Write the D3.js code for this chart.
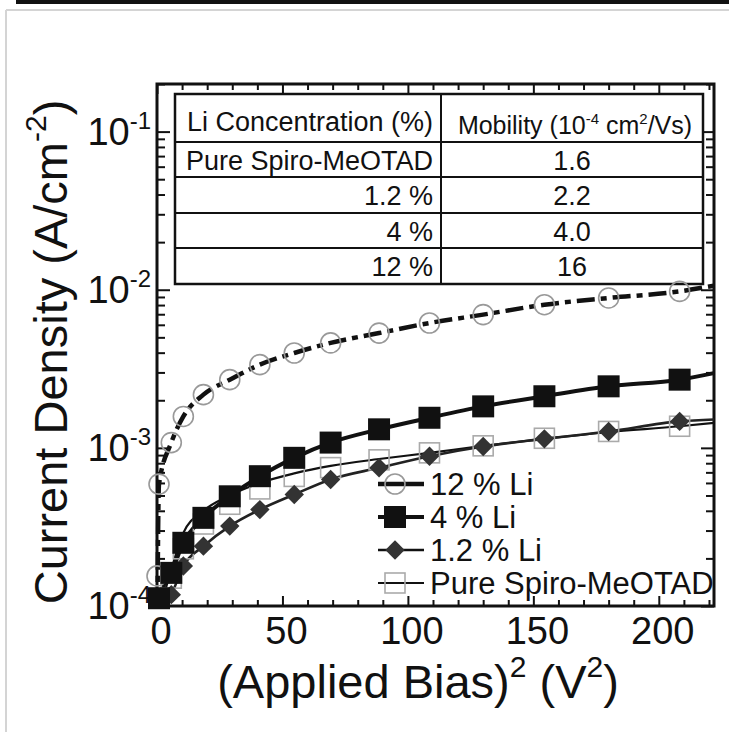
<!DOCTYPE html>
<html>
<head>
<meta charset="utf-8">
<script src="https://cdn.jsdelivr.net/npm/d3@7"></script>
<style>
  body { margin: 0; background: #fff; }
  svg text { font-family: "Liberation Sans", Arial, sans-serif; fill: #111; }
</style>
</head>
<body>
<div class="Graph"></div>
<script>
// squared bias (V^2) at which the markers sit
var biasSq = [0, 0.8, 5.7, 10.5, 18.5, 29, 41, 54.7, 69.2, 88.5, 108.6, 130, 154.4, 180, 208.3];

// measured current density (A/cm^2), null = not shown
var li12 = [1.55e-4, 5.9e-4, 1.08e-3, 1.58e-3, 2.17e-3, 2.7e-3, 3.36e-3, 3.98e-3, 4.61e-3, 5.32e-3, 6.16e-3, 6.96e-3, 8.04e-3, 8.87e-3, 9.76e-3];
var li4 = [null, 1.12e-4, 1.62e-4, 2.51e-4, 3.61e-4, 4.94e-4, 6.62e-4, 8.65e-4, 1.08e-3, 1.31e-3, 1.55e-3, 1.83e-3, 2.12e-3, 2.45e-3, 2.7e-3];
var li1_2 = [null, null, 1.18e-4, 1.79e-4, 2.39e-4, 3.2e-4, 4.07e-4, 5.07e-4, 6.31e-4, 7.48e-4, 8.86e-4, 1.02e-3, 1.14e-3, 1.27e-3, 1.47e-3];
var pure = [null, null, 1.5e-4, 2.3e-4, 3.3e-4, 4.4e-4, 5.5e-4, 6.6e-4, 7.5e-4, 8.4e-4, 9.3e-4, 1.03e-3, 1.15e-3, 1.27e-3, 1.37e-3];

// fitted curves
var fit12X = [0.2, 0.5, 0.8, 5.7, 10.5, 18.5, 29, 41, 54.7, 69.2, 88.5, 108.6, 130, 154.4, 180, 208.3, 222];
var fit12Y = [1e-4, 3.6e-4, 5.9e-4, 1.08e-3, 1.58e-3, 2.17e-3, 2.7e-3, 3.36e-3, 3.98e-3, 4.61e-3, 5.32e-3, 6.16e-3, 6.96e-3, 8.04e-3, 8.87e-3, 9.76e-3, 1.06e-2];
var fit4X = [0.5, 0.8, 5.7, 10.5, 18.5, 29, 41, 54.7, 69.2, 88.5, 108.6, 130, 154.4, 180, 208.3, 222];
var fit4Y = [1e-4, 1.12e-4, 1.62e-4, 2.51e-4, 3.61e-4, 4.94e-4, 6.62e-4, 8.65e-4, 1.08e-3, 1.31e-3, 1.55e-3, 1.83e-3, 2.12e-3, 2.45e-3, 2.7e-3, 2.97e-3];
var fit1_2X = [3, 5.7, 10.5, 18.5, 29, 41, 54.7, 69.2, 88.5, 108.6, 130, 154.4, 180, 208.3, 222];
var fit1_2Y = [1e-4, 1.18e-4, 1.79e-4, 2.39e-4, 3.2e-4, 4.07e-4, 5.07e-4, 6.31e-4, 7.48e-4, 8.86e-4, 1.02e-3, 1.14e-3, 1.27e-3, 1.47e-3, 1.51e-3];
var fitPureX = [1.5, 5.7, 10.5, 18.5, 29, 41, 54.7, 69.2, 88.5, 108.6, 130, 154.4, 180, 208.3, 222];
var fitPureY = [1e-4, 1.7e-4, 2.9e-4, 4.0e-4, 5.0e-4, 6.0e-4, 6.9e-4, 7.7e-4, 8.5e-4, 9.3e-4, 1.03e-3, 1.14e-3, 1.26e-3, 1.37e-3, 1.44e-3];

var legendLabels = ["12 % Li", "4 % Li", "1.2 % Li", "Pure Spiro-MeOTAD"];

// inset table
var tableConc = ["Pure Spiro-MeOTAD", "1.2 %", "4 %", "12 %"];
var tableMob = ["1.6", "2.2", "4.0", "16"];

var xTicks = [0, 50, 100, 150, 200];
var yExps = [-1, -2, -3, -4];

var W = 729, H = 732;
var svg = d3.select(".Graph").append("svg")
    .attr("width", W).attr("height", H);

// page border bits from the scan
svg.append("rect").attr("x", 16).attr("y", 0).attr("width", W - 16).attr("height", 4).attr("fill", "#111");
svg.append("line").attr("x1", 6).attr("x2", W).attr("y1", 10).attr("y2", 10).attr("stroke", "#d4d4d4").attr("stroke-width", 2);
svg.append("line").attr("x1", 6).attr("x2", 6).attr("y1", 10).attr("y2", H).attr("stroke", "#d4d4d4").attr("stroke-width", 2);

var L = 157, R = 714, T = 84, B = 606;
var x = d3.scaleLinear().domain([0, 222]).range([L, R]);
var y = d3.scaleLog().domain([1e-4, 0.2]).range([B, T]);

// minor tick values
var yMinor = [];
[-4, -3, -2, -1].forEach(function (e) {
    for (var k = 2; k <= 9; k++) {
        var v = k * Math.pow(10, e);
        if (v <= 0.2) yMinor.push(v);
    }
});
var yMajor = yExps.map(function (e) { return Math.pow(10, e); });
var xMinor = d3.range(0, 221, 10).filter(function (v) { return v % 50 != 0; });

function styleAxis(g) {
    g.select(".domain").remove();
    g.selectAll("line").attr("stroke", "#111").attr("stroke-width", 2);
}

svg.append("g").attr("transform", "translate(" + L + ",0)")
    .call(d3.axisLeft(y).tickValues(yMajor).tickSize(-13).tickFormat("")).call(styleAxis);
svg.append("g").attr("transform", "translate(" + L + ",0)")
    .call(d3.axisLeft(y).tickValues(yMinor).tickSize(-8).tickFormat("")).call(styleAxis);
svg.append("g").attr("transform", "translate(" + R + ",0)")
    .call(d3.axisRight(y).tickValues(yMajor).tickSize(-13).tickFormat("")).call(styleAxis);
svg.append("g").attr("transform", "translate(" + R + ",0)")
    .call(d3.axisRight(y).tickValues(yMinor).tickSize(-8).tickFormat("")).call(styleAxis);
svg.append("g").attr("transform", "translate(0," + B + ")")
    .call(d3.axisBottom(x).tickValues(xTicks).tickSize(-10).tickFormat("")).call(styleAxis);
svg.append("g").attr("transform", "translate(0," + B + ")")
    .call(d3.axisBottom(x).tickValues(xMinor).tickSize(-6).tickFormat("")).call(styleAxis);
svg.append("g").attr("transform", "translate(0," + T + ")")
    .call(d3.axisTop(x).tickValues(xTicks).tickSize(-10).tickFormat("")).call(styleAxis);
svg.append("g").attr("transform", "translate(0," + T + ")")
    .call(d3.axisTop(x).tickValues(xMinor).tickSize(-6).tickFormat("")).call(styleAxis);

// frame
svg.append("rect").attr("x", L).attr("y", T).attr("width", R - L).attr("height", B - T)
    .attr("fill", "none").attr("stroke", "#111").attr("stroke-width", 3);

// x tick labels
svg.selectAll(".xl").data(xTicks).enter().append("text")
    .attr("x", function (d) { return x(d) + 4; }).attr("y", B + 38)
    .attr("text-anchor", "middle").attr("font-size", 38).text(function (d) { return d; });

// y tick labels 10^n
yExps.forEach(function (e) {
    var t = svg.append("text").attr("x", L - 6).attr("y", y(Math.pow(10, e)) + 13)
        .attr("text-anchor", "end").attr("font-size", 38);
    t.append("tspan").text("10");
    t.append("tspan").attr("font-size", 24).attr("dy", -16).text(e);
});

// axis titles
var xt = svg.append("text").attr("x", 418).attr("y", 698).attr("text-anchor", "middle").attr("font-size", 47);
xt.append("tspan").text("(Applied Bias)");
xt.append("tspan").attr("font-size", 30).attr("dy", -21).text("2");
xt.append("tspan").attr("dy", 21).text(" (V");
xt.append("tspan").attr("font-size", 30).attr("dy", -21).text("2");
xt.append("tspan").attr("dy", 21).text(")");

var yt = svg.append("text").attr("transform", "translate(67,352) rotate(-90)")
    .attr("text-anchor", "middle").attr("font-size", 47);
yt.append("tspan").text("Current Density (A/cm");
yt.append("tspan").attr("font-size", 30).attr("dy", -21).text("-2");
yt.append("tspan").attr("dy", 21).text(")");

// inset table
var tL = 175, tR = 703, tMid = 441, tT = 94;
var rowY = [94, 142, 177, 213, 248, 284];
svg.append("rect").attr("x", tL).attr("y", tT).attr("width", tR - tL).attr("height", rowY[5] - tT)
    .attr("fill", "#fff").attr("stroke", "#111").attr("stroke-width", 2.5);
rowY.slice(1, 5).forEach(function (ry) {
    svg.append("line").attr("x1", tL).attr("x2", tR).attr("y1", ry).attr("y2", ry)
        .attr("stroke", "#111").attr("stroke-width", 1.8);
});
svg.append("line").attr("x1", tMid).attr("x2", tMid).attr("y1", tT).attr("y2", rowY[5])
    .attr("stroke", "#111").attr("stroke-width", 2);
svg.append("text").attr("x", tMid - 8).attr("y", 131).attr("text-anchor", "end")
    .attr("font-size", 27).text("Li Concentration (%)");
var mh = svg.append("text").attr("x", (tMid + tR) / 2 + 3).attr("y", 134).attr("text-anchor", "middle").attr("font-size", 25);
mh.append("tspan").text("Mobility (10");
mh.append("tspan").attr("font-size", 15).attr("dy", -10).text("-4");
mh.append("tspan").attr("dy", 10).text(" cm");
mh.append("tspan").attr("font-size", 15).attr("dy", -10).text("2");
mh.append("tspan").attr("dy", 10).text("/Vs)");
tableConc.forEach(function (c, i) {
    var cy = (rowY[i + 1] + rowY[i + 2]) / 2 + 10;
    svg.append("text").attr("x", tMid - 8).attr("y", cy).attr("text-anchor", "end").attr("font-size", 27).text(c);
    svg.append("text").attr("x", (tMid + tR) / 2).attr("y", cy).attr("text-anchor", "middle").attr("font-size", 27).text(tableMob[i]);
});

// fit lines
var line = d3.line().x(function (d) { return x(d[0]); }).y(function (d) { return y(d[1]); }).curve(d3.curveMonotoneX);
function zip(a, b) { return a.map(function (v, i) { return [v, b[i]]; }); }
svg.append("path").datum(zip(fit12X, fit12Y)).attr("d", line).attr("fill", "none")
    .attr("stroke", "#111").attr("stroke-width", 4.5).attr("stroke-dasharray", "18,6,6,6");
svg.append("path").datum(zip(fitPureX, fitPureY)).attr("d", line).attr("fill", "none")
    .attr("stroke", "#111").attr("stroke-width", 2.2);
svg.append("path").datum(zip(fit1_2X, fit1_2Y)).attr("d", line).attr("fill", "none")
    .attr("stroke", "#222").attr("stroke-width", 2.6);
svg.append("path").datum(zip(fit4X, fit4Y)).attr("d", line).attr("fill", "none")
    .attr("stroke", "#111").attr("stroke-width", 4);

// markers
function pts(arr) {
    return biasSq.map(function (v, i) { return [v, arr[i]]; }).filter(function (d) { return d[1] != null; });
}
svg.selectAll(".c12").data(pts(li12)).enter().append("circle")
    .attr("cx", function (d) { return x(d[0]); }).attr("cy", function (d) { return y(d[1]); })
    .attr("r", 10).attr("fill", "none").attr("stroke", "#999").attr("stroke-width", 1.6);
svg.selectAll(".sp").data(pts(pure)).enter().append("rect")
    .attr("x", function (d) { return x(d[0]) - 10; }).attr("y", function (d) { return y(d[1]) - 10; })
    .attr("width", 20).attr("height", 20).attr("fill", "none").attr("stroke", "#aaa").attr("stroke-width", 1.6);
var diamond = d3.symbol().type(d3.symbolDiamond2).size(240);
svg.selectAll(".d12").data(pts(li1_2)).enter().append("path")
    .attr("transform", function (d) { return "translate(" + x(d[0]) + "," + y(d[1]) + ")"; })
    .attr("d", diamond).attr("fill", "#333");
svg.selectAll(".s4").data(pts(li4)).enter().append("rect")
    .attr("x", function (d) { return x(d[0]) - 11; }).attr("y", function (d) { return y(d[1]) - 11; })
    .attr("width", 22).attr("height", 22).attr("fill", "#111");

// legend
var legY = [484, 517, 550, 583];
var lx1 = 378, lx2 = 424, lmx = 395;
legY.forEach(function (ly, i) {
    var ln = svg.append("line").attr("x1", lx1).attr("x2", lx2).attr("y1", ly).attr("y2", ly).attr("stroke", "#111");
    if (i == 0) {
        ln.attr("stroke-width", 4.5);
        svg.append("circle").attr("cx", lmx).attr("cy", ly).attr("r", 10).attr("fill", "none").attr("stroke", "#999").attr("stroke-width", 1.6);
    } else if (i == 1) {
        ln.attr("stroke-width", 4);
        svg.append("rect").attr("x", lmx - 11).attr("y", ly - 11).attr("width", 22).attr("height", 22).attr("fill", "#111");
    } else if (i == 2) {
        ln.attr("stroke-width", 2.6);
        svg.append("path").attr("transform", "translate(" + lmx + "," + ly + ")").attr("d", diamond).attr("fill", "#333");
    } else {
        ln.attr("stroke-width", 2.2);
        svg.append("rect").attr("x", lmx - 10).attr("y", ly - 10).attr("width", 20).attr("height", 20).attr("fill", "none").attr("stroke", "#aaa").attr("stroke-width", 1.6);
    }
    svg.append("text").attr("x", 430).attr("y", ly + 11).attr("font-size", 31).text(legendLabels[i]);
});
</script>
</body>
</html>
